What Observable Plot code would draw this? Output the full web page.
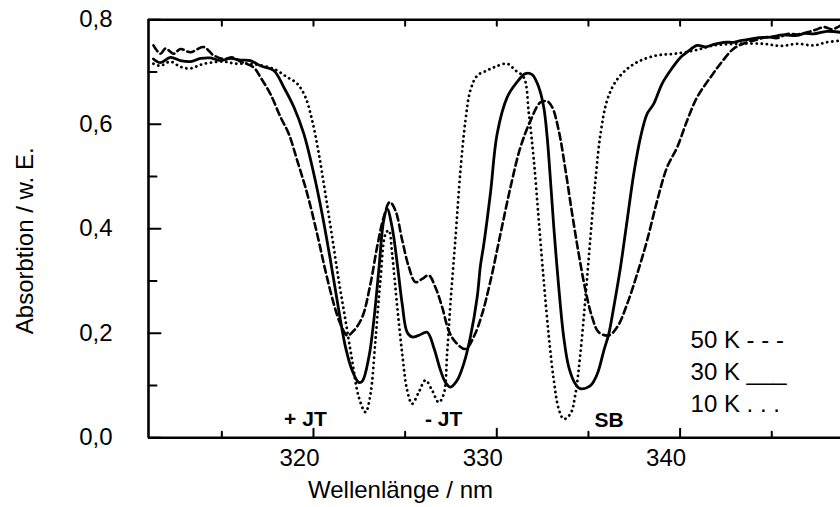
<!DOCTYPE html>
<html>
<head>
<meta charset="utf-8">
<script src="https://cdn.jsdelivr.net/npm/d3@7"></script>
<script src="https://cdn.jsdelivr.net/npm/@observablehq/plot@0.6"></script>
<style>
  html, body { margin: 0; padding: 0; background: #fff; }
  #chart svg { display: block; }
</style>
</head>
<body>
<div id="chart"></div>
<script>
// ---- data ----
// 30 K (solid)
const wl30 = [311.27,311.65,312.2,312.74,313.29,313.84,314.38,314.93,315.47,316.02,316.56,317.11,317.83,318.38,318.93,319.47,320.02,320.47,320.93,321.38,321.75,322.11,322.47,322.66,323.02,323.29,323.56,323.83,324.02,324.29,324.57,324.84,325.11,325.38,325.74,326.20,326.56,326.93,327.20,327.47,327.84,328.20,328.56,328.93,329.11,329.29,329.66,330.02,330.57,331.11,331.56,331.93,332.29,332.56,332.75,332.93,333.11,333.38,333.65,333.93,334.29,334.56,335.11,335.48,335.84,336.11,336.38,336.75,337.11,337.47,337.84,338.20,338.56,339.02,339.47,340.02,340.38,340.93,341.4,341.84,342.4,342.93,343.3,343.66,344.3,344.93,345.6,346.39,346.8,347.29,348.0,348.75];
const abs30 = [0.725,0.718,0.728,0.722,0.72,0.726,0.727,0.722,0.726,0.723,0.722,0.712,0.703,0.671,0.633,0.582,0.505,0.429,0.339,0.244,0.173,0.129,0.106,0.108,0.154,0.224,0.320,0.416,0.438,0.403,0.333,0.256,0.202,0.193,0.196,0.202,0.173,0.129,0.106,0.097,0.110,0.142,0.193,0.269,0.33,0.37,0.47,0.582,0.652,0.681,0.697,0.695,0.671,0.633,0.575,0.492,0.403,0.288,0.193,0.135,0.103,0.094,0.100,0.122,0.167,0.199,0.250,0.327,0.416,0.505,0.575,0.620,0.639,0.678,0.703,0.728,0.738,0.751,0.748,0.753,0.757,0.757,0.76,0.762,0.766,0.767,0.771,0.770,0.774,0.773,0.778,0.776];
// 50 K (dashed)
const wl50 = [311.27,311.65,311.93,312.37,312.74,313.29,314.0,314.55,315.09,315.58,316.02,316.73,317.11,317.65,318.20,318.65,319.11,319.66,320.20,320.65,321.11,321.47,321.84,322.20,322.66,323.11,323.47,323.83,324.16,324.47,324.84,325.20,325.56,325.93,326.29,326.65,327.02,327.38,327.75,328.29,328.74,329.20,329.66,330.20,330.75,331.29,331.84,332.38,332.75,333.02,333.38,333.75,334.11,334.47,334.84,335.20,335.56,336.11,336.57,337.11,337.66,338.20,338.75,339.29,339.84,340.38,340.93,341.66,342.20,342.93,343.66,344.2,344.75,345.3,345.84,346.4,346.93,347.4,347.84,348.3,348.75];
const abs50 = [0.751,0.735,0.745,0.735,0.744,0.738,0.748,0.732,0.725,0.728,0.72,0.709,0.690,0.658,0.614,0.582,0.531,0.467,0.390,0.320,0.256,0.218,0.196,0.205,0.231,0.295,0.365,0.422,0.451,0.435,0.378,0.327,0.298,0.304,0.311,0.288,0.250,0.205,0.183,0.170,0.193,0.237,0.301,0.390,0.480,0.556,0.607,0.642,0.644,0.633,0.588,0.512,0.429,0.352,0.282,0.231,0.202,0.196,0.212,0.256,0.314,0.378,0.454,0.518,0.556,0.607,0.652,0.690,0.716,0.745,0.757,0.762,0.767,0.765,0.773,0.772,0.776,0.781,0.786,0.782,0.789];
// 10 K (dotted)
const wl10 = [311.27,311.65,312.2,312.74,313.29,313.84,314.38,315.09,315.75,316.56,317.83,318.57,319.11,319.56,319.93,320.29,320.65,321.02,321.38,321.75,322.11,322.47,322.84,323.11,323.38,323.65,323.93,324.11,324.29,324.57,324.84,325.11,325.38,325.74,326.11,326.47,326.83,327.11,327.29,327.47,327.75,328.02,328.29,328.56,328.93,329.47,329.84,330.57,331.02,331.47,331.75,332.02,332.29,332.56,332.84,333.11,333.38,333.65,334.02,334.29,334.56,334.84,335.11,335.38,335.66,336.02,336.47,337.11,337.84,338.75,339.66,340.75,341.84,343.11,344.56,345.5,346.39,347.29,348.0,348.75];
const abs10 = [0.716,0.712,0.72,0.71,0.707,0.714,0.718,0.72,0.716,0.716,0.706,0.690,0.678,0.652,0.607,0.544,0.467,0.384,0.301,0.224,0.148,0.078,0.049,0.084,0.186,0.301,0.390,0.397,0.352,0.250,0.161,0.091,0.065,0.087,0.110,0.091,0.068,0.084,0.161,0.256,0.384,0.512,0.607,0.665,0.693,0.703,0.709,0.716,0.703,0.690,0.620,0.531,0.416,0.301,0.193,0.110,0.055,0.036,0.046,0.084,0.161,0.269,0.384,0.492,0.582,0.646,0.681,0.706,0.722,0.732,0.735,0.741,0.751,0.754,0.754,0.750,0.754,0.751,0.757,0.760];

// axes
const xDomain = [311, 348.75];
const yDomain = [0, 0.8];
const xTickLabels = [320, 330, 340];
const xMinorTicks = [315, 325, 335, 345];
const yTickLabels = [0, 0.2, 0.4, 0.6, 0.8];
const yMinorTicks = [0.1, 0.3, 0.5, 0.7];

// annotations
const peakNames = ["+ JT", "- JT", "SB"];
const peakX = [319.56, 327.1, 336.12];
const peakY = [0.036, 0.036, 0.0345];
const legendText = ["50 K - - -", "30 K ___", "10 K . . ."];
const legendX = 340.57;
const legendY = [0.186, 0.125, 0.0647];

const xLabel = "Wellenlänge / nm";
const yLabel = "Absorbtion / w. E.";

// ---- build ----
const toRows = (wl, ab) => d3.zip(wl, ab).map(([x, y]) => ({x, y}));
const s30 = toRows(wl30, abs30);
const s50 = toRows(wl50, abs50);
const s10 = toRows(wl10, abs10);
const peaks = peakNames.map((t, i) => ({t, x: peakX[i], y: peakY[i]}));
const legend = legendText.map((t, i) => ({t, y: legendY[i]}));

const font = "'Liberation Sans', Arial, Helvetica, sans-serif";
const tickShape = {draw(context, l) { context.moveTo(0, 0); context.lineTo(0, -l); }};
const tickStyle = {anchor: "start", shape: tickShape, stroke: "black", strokeWidth: 2};

const chart = Plot.plot({
  width: 840,
  height: 507,
  marginLeft: 148,
  marginRight: 0,
  marginTop: 19.3,
  marginBottom: 69.7,
  style: {fontFamily: font, fontSize: "24px", background: "#fff", color: "#000", overflow: "visible"},
  x: {domain: xDomain},
  y: {domain: yDomain},
  marks: [
    // curves
    Plot.line(s50, {x: "x", y: "y", stroke: "black", strokeWidth: 2.6, strokeDasharray: "7,4", curve: "catmull-rom", clip: true}),
    Plot.line(s10, {x: "x", y: "y", stroke: "black", strokeWidth: 2.8, strokeDasharray: "0.1,5", strokeLinecap: "round", curve: "catmull-rom", clip: true}),
    Plot.line(s30, {x: "x", y: "y", stroke: "black", strokeWidth: 2.8, curve: "catmull-rom", clip: true}),
    // frame lines
    Plot.ruleX([xDomain[0]], {stroke: "black", strokeWidth: 2.6}),
    Plot.ruleY([yDomain[0], yDomain[1]], {stroke: "black", strokeWidth: 2.6}),
    // inward ticks
    Plot.vector(xTickLabels, {x: d => d, y: () => yDomain[0], length: 9, rotate: 0, ...tickStyle}),
    Plot.vector(xMinorTicks, {x: d => d, y: () => yDomain[0], length: 6, rotate: 0, ...tickStyle}),
    Plot.vector(xTickLabels.concat(xMinorTicks), {x: d => d, y: () => yDomain[1], length: 6, rotate: 180, ...tickStyle}),
    Plot.vector(yTickLabels, {x: () => xDomain[0], y: d => d, length: 12, rotate: 90, ...tickStyle}),
    Plot.vector(yMinorTicks, {x: () => xDomain[0], y: d => d, length: 8, rotate: 90, ...tickStyle}),
    // axes labels
    Plot.axisX({ticks: xTickLabels, tickSize: 0, tickPadding: 11, dx: -14, fontSize: 24, tickFormat: d => String(d), label: null}),
    Plot.axisY({ticks: yTickLabels, tickSize: 0, tickPadding: 36, fontSize: 24, tickFormat: d => d.toFixed(1).replace(".", ","), label: null}),
    Plot.text([xLabel], {frameAnchor: "bottom", text: d => d, dx: -94, dy: 53, fontSize: 24, textAnchor: "middle", lineAnchor: "middle"}),
    Plot.text([yLabel], {frameAnchor: "left", text: d => d, rotate: -90, dx: -123, dy: 12, fontSize: 24, textAnchor: "middle", lineAnchor: "middle"}),
    // peak annotations
    Plot.text(peaks, {x: "x", y: "y", text: "t", fontSize: 21, fontWeight: "bold", lineAnchor: "middle"}),
    // legend
    Plot.text(legend, {x: () => legendX, y: "y", text: "t", fontSize: 24, textAnchor: "start", lineAnchor: "middle"})
  ]
});
document.getElementById("chart").appendChild(chart);
</script>
</body>
</html>
